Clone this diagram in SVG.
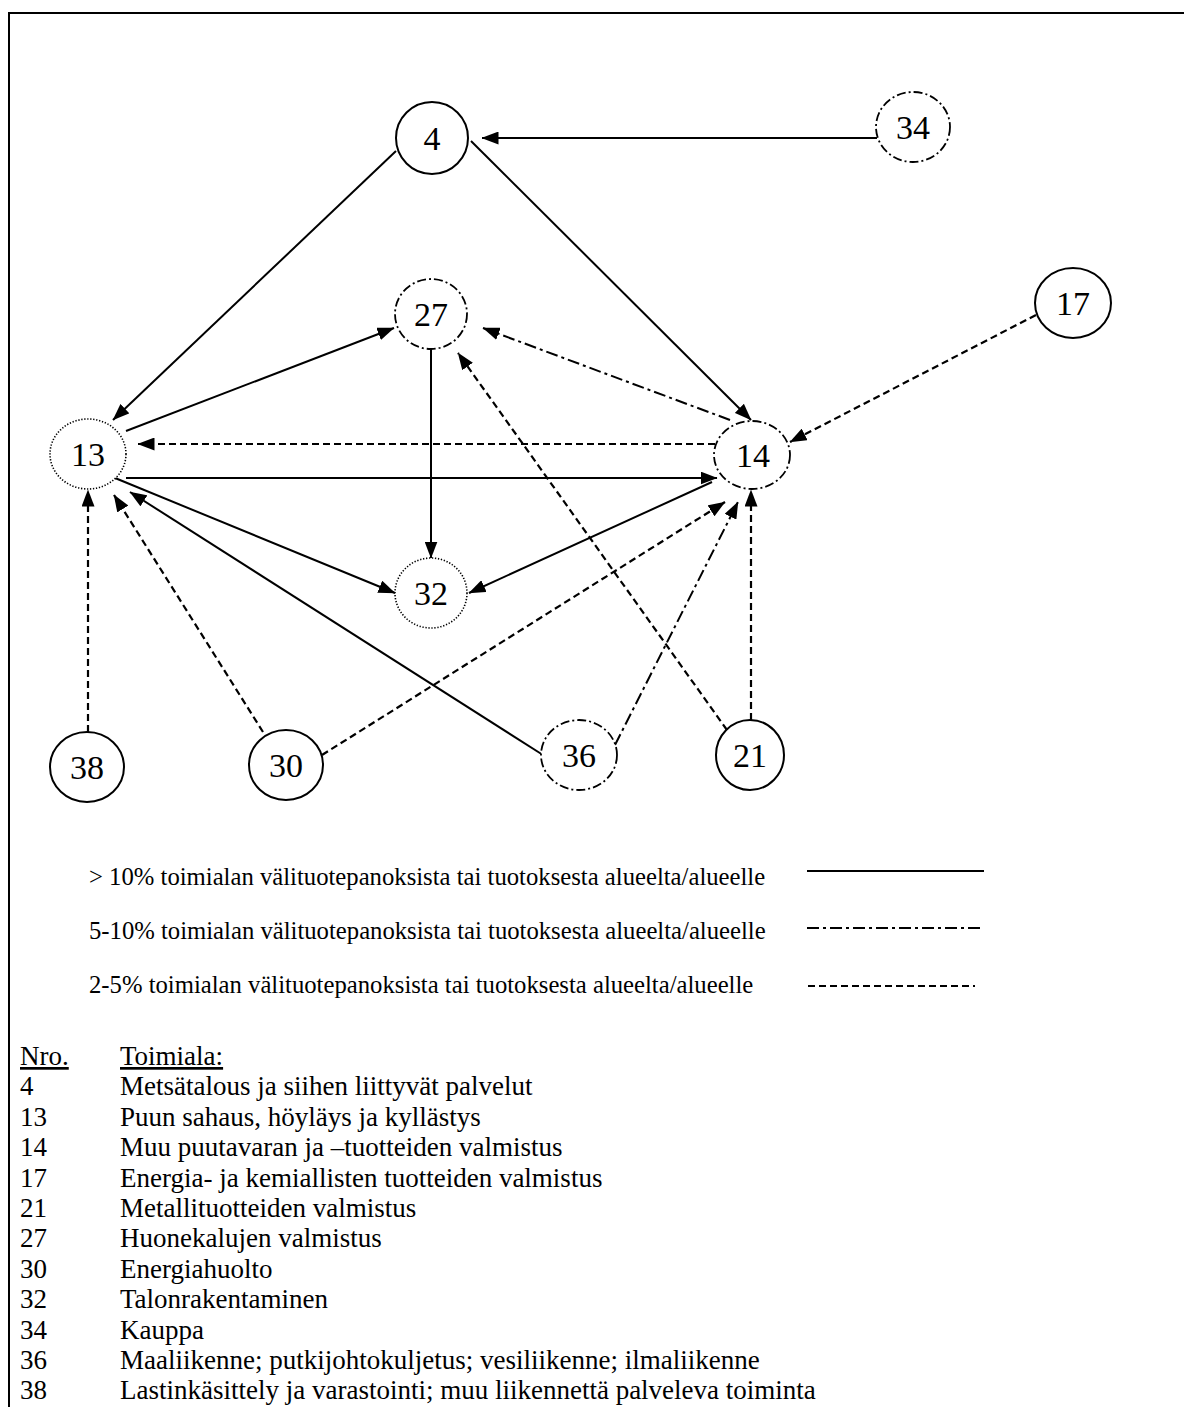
<svg xmlns="http://www.w3.org/2000/svg" width="1184" height="1407" viewBox="0 0 1184 1407">
<style>
text{font-family:"Liberation Serif","Times New Roman",serif;fill:#000}
.lbl{font-size:34px;text-anchor:middle}
.leg{font-size:24.7px}
.tab{font-size:27px}
.c{fill:#fff;stroke:#000}
.cs{stroke-width:2}
.cdd{stroke-width:1.8;stroke-dasharray:9 3 2 3}
.cdot{stroke-width:1.6;stroke-dasharray:1.3 1.7}
.e{fill:none;stroke:#000;stroke-width:2}
.d{stroke-dasharray:7 4;stroke-width:2.2}
.dd{stroke-dasharray:12 4 3 4}
</style>
<defs>
<marker id="ah" markerWidth="17" markerHeight="13" refX="16.5" refY="6.5" orient="auto" markerUnits="userSpaceOnUse">
<path d="M0,0 L17,6.5 L0,13 z" fill="#000"/>
</marker>
</defs>
<rect x="0" y="0" width="1184" height="1407" fill="#fff"/>
<path d="M9,1407 V13 H1184" fill="none" stroke="#000" stroke-width="2"/>
<g id="connectors">
<line class="e" x1="877" y1="138" x2="482" y2="138" marker-end="url(#ah)"/>
<line class="e" x1="396" y1="151" x2="113" y2="420" marker-end="url(#ah)"/>
<line class="e" x1="471" y1="141" x2="751" y2="420" marker-end="url(#ah)"/>
<line class="e" x1="126" y1="431" x2="394" y2="328" marker-end="url(#ah)"/>
<line class="e" x1="431" y1="349" x2="431" y2="558" marker-end="url(#ah)"/>
<line class="e dd" x1="730" y1="420" x2="483" y2="328" marker-end="url(#ah)"/>
<line class="e d" x1="715" y1="444" x2="138" y2="444" marker-end="url(#ah)"/>
<line class="e" x1="126" y1="478" x2="717" y2="478" marker-end="url(#ah)"/>
<line class="e" x1="115" y1="478" x2="395" y2="593" marker-end="url(#ah)"/>
<line class="e" x1="712" y1="482" x2="469" y2="593" marker-end="url(#ah)"/>
<line class="e d" x1="1036" y1="315" x2="790" y2="442" marker-end="url(#ah)"/>
<line class="e d" x1="88" y1="732" x2="88" y2="490" marker-end="url(#ah)"/>
<line class="e d" x1="263" y1="732" x2="114" y2="495" marker-end="url(#ah)"/>
<line class="e d" x1="322" y1="755" x2="725" y2="502" marker-end="url(#ah)"/>
<line class="e" x1="543" y1="755" x2="130" y2="492" marker-end="url(#ah)"/>
<line class="e dd" x1="615" y1="745" x2="738" y2="502" marker-end="url(#ah)"/>
<line class="e d" x1="727" y1="730" x2="458" y2="353" marker-end="url(#ah)"/>
<line class="e d" x1="751" y1="720" x2="751" y2="490" marker-end="url(#ah)"/>
</g>
<g id="n4"><ellipse class="c cs" cx="432" cy="138" rx="36" ry="36"/><text class="lbl" x="432" y="150">4</text></g>
<g id="n34"><ellipse class="c cdd" cx="913" cy="127" rx="37" ry="35"/><text class="lbl" x="913" y="139">34</text></g>
<g id="n27"><ellipse class="c cdd" cx="431" cy="314" rx="36" ry="35"/><text class="lbl" x="431" y="326">27</text></g>
<g id="n17"><ellipse class="c cs" cx="1073" cy="303" rx="38" ry="35"/><text class="lbl" x="1073" y="315">17</text></g>
<g id="n13"><ellipse class="c cdot" cx="88" cy="454" rx="38" ry="35"/><text class="lbl" x="88" y="466">13</text></g>
<g id="n14"><ellipse class="c cdd" cx="752" cy="455" rx="38" ry="34"/><text class="lbl" x="753" y="467">14</text></g>
<g id="n32"><ellipse class="c cdot" cx="431" cy="593" rx="36" ry="35"/><text class="lbl" x="431" y="605">32</text></g>
<g id="n38"><ellipse class="c cs" cx="87" cy="767" rx="37" ry="35"/><text class="lbl" x="87" y="779">38</text></g>
<g id="n30"><ellipse class="c cs" cx="286" cy="765" rx="37" ry="35"/><text class="lbl" x="286" y="777">30</text></g>
<g id="n36"><ellipse class="c cdd" cx="579" cy="755" rx="38" ry="35"/><text class="lbl" x="579" y="767">36</text></g>
<g id="n21"><ellipse class="c cs" cx="750" cy="755" rx="34" ry="35"/><text class="lbl" x="750" y="767">21</text></g>
<g id="legend">
<text class="leg" x="89" y="885">&gt; 10% toimialan välituotepanoksista tai tuotoksesta alueelta/alueelle</text>
<line class="e" x1="807" y1="871" x2="984" y2="871"/>
<text class="leg" x="89" y="939">5-10% toimialan välituotepanoksista tai tuotoksesta alueelta/alueelle</text>
<line class="e dd" x1="807" y1="928" x2="984" y2="928"/>
<text class="leg" x="89" y="993">2-5% toimialan välituotepanoksista tai tuotoksesta alueelta/alueelle</text>
<line class="e d" x1="808" y1="986" x2="975" y2="986"/>
</g>
<g id="table" class="tab">
<text class="tab" x="20" y="1065" text-decoration="underline">Nro.</text>
<text class="tab" x="120" y="1065" text-decoration="underline">Toimiala:</text>
<text class="tab" x="20" y="1095">4</text><text class="tab" x="120" y="1095">Metsätalous ja siihen liittyvät palvelut</text>
<text class="tab" x="20" y="1126">13</text><text class="tab" x="120" y="1126">Puun sahaus, höyläys ja kyllästys</text>
<text class="tab" x="20" y="1156">14</text><text class="tab" x="120" y="1156">Muu puutavaran ja –tuotteiden valmistus</text>
<text class="tab" x="20" y="1187">17</text><text class="tab" x="120" y="1187">Energia- ja kemiallisten tuotteiden valmistus</text>
<text class="tab" x="20" y="1217">21</text><text class="tab" x="120" y="1217">Metallituotteiden valmistus</text>
<text class="tab" x="20" y="1247">27</text><text class="tab" x="120" y="1247">Huonekalujen valmistus</text>
<text class="tab" x="20" y="1278">30</text><text class="tab" x="120" y="1278">Energiahuolto</text>
<text class="tab" x="20" y="1308">32</text><text class="tab" x="120" y="1308">Talonrakentaminen</text>
<text class="tab" x="20" y="1339">34</text><text class="tab" x="120" y="1339">Kauppa</text>
<text class="tab" x="20" y="1369">36</text><text class="tab" x="120" y="1369">Maaliikenne; putkijohtokuljetus; vesiliikenne; ilmaliikenne</text>
<text class="tab" x="20" y="1399">38</text><text class="tab" x="120" y="1399">Lastinkäsittely ja varastointi; muu liikennettä palveleva toiminta</text>
</g>
</svg>
